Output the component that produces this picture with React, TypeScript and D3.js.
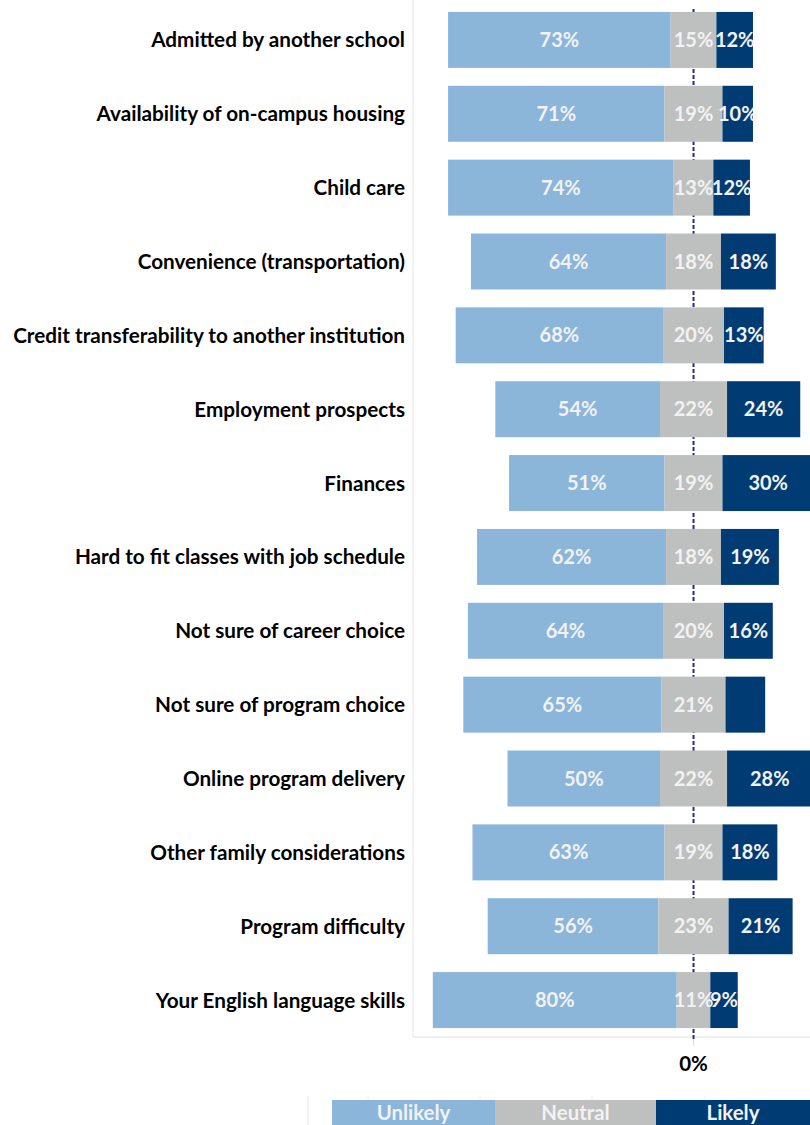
import React from "react";
import * as d3 from "d3";

const categories = [
  "Admitted by another school",
  "Availability of on-campus housing",
  "Child care",
  "Convenience (transportation)",
  "Credit transferability to another institution",
  "Employment prospects",
  "Finances",
  "Hard to fit classes with job schedule",
  "Not sure of career choice",
  "Not sure of program choice",
  "Online program delivery",
  "Other family considerations",
  "Program difficulty",
  "Your English language skills",
];
const unlikely = [73, 71, 74, 64, 68, 54, 51, 62, 64, 65, 50, 63, 56, 80];
const neutral = [15, 19, 13, 18, 20, 22, 19, 18, 20, 21, 22, 19, 23, 11];
const likely = [12, 10, 12, 18, 13, 24, 30, 19, 16, 13, 28, 18, 21, 9];
const hiddenLikelyLabels = ["Not sure of program choice"];
const seriesNames = ["Unlikely", "Neutral", "Likely"];
const xTicks = [0];

const COLORS = ["#8BB6DA", "#BEBFBF", "#003B73"];
const FONT = "Lato, 'Open Sans', sans-serif";

export default function App() {
  const W = 810;
  const H = 1125;
  const plotLeft = 413;
  const plotRight = 810;
  const plotTop = 3;
  const plotBottom = 1037;

  const x = d3.scaleLinear().domain([-92, 38.2]).range([plotLeft, plotRight]);
  const y = d3
    .scaleBand<string>()
    .domain(categories)
    .range([plotTop, plotBottom])
    .paddingInner(0.242)
    .paddingOuter(0.121);

  const rows = categories.map((c, i) => {
    const n = neutral[i];
    const u = unlikely[i];
    const l = likely[i];
    const segs = [
      { s: 0, x0: -(n / 2 + u), x1: -n / 2, v: u, show: true },
      { s: 1, x0: -n / 2, x1: n / 2, v: n, show: true },
      { s: 2, x0: n / 2, x1: n / 2 + l, v: l, show: !hiddenLikelyLabels.includes(c) },
    ];
    return { c, segs };
  });

  const legendEdges = [332, 495, 656, 810];
  const legendGrid = [368, 480, 592, 705];

  return (
    <svg
      width={W}
      height={H}
      style={{ position: "absolute", left: 0, top: 0, background: "#fff" }}
      fontFamily={FONT}
    >
      <line x1={plotLeft} x2={plotLeft} y1={0} y2={plotBottom} stroke="#E6E6E6" strokeWidth={1} />
      <line x1={plotLeft} x2={plotRight} y1={plotBottom} y2={plotBottom} stroke="#E0E0E0" strokeWidth={1} />
      {xTicks.map((t) => (
        <g key={t}>
          <line x1={x(t)} x2={x(t)} y1={plotBottom} y2={plotBottom + 9} stroke="#E0E0E0" />
          <text x={x(t)} y={1071} textAnchor="middle" fontSize={20.5} fontWeight={700} fill="#000">
            {`${t}%`}
          </text>
        </g>
      ))}
      <line
        x1={x(0)}
        x2={x(0)}
        y1={9}
        y2={plotBottom + 2}
        stroke="#2A2A8C"
        strokeWidth={2}
        strokeDasharray="4,2"
      />
      {rows.map((r) => {
        const yy = y(r.c)!;
        const bh = y.bandwidth();
        const cy = yy + bh / 2;
        return (
          <g key={r.c}>
            <text x={405} y={cy + 7.5} textAnchor="end" fontSize={20.7} fontWeight={700} fill="#000">
              {r.c}
            </text>
            {r.segs.map((s) => (
              <rect
                key={s.s}
                x={x(s.x0)}
                y={yy}
                width={x(s.x1) - x(s.x0)}
                height={bh}
                fill={COLORS[s.s]}
              />
            ))}
            {r.segs.map((s) =>
              s.show ? (
                <text
                  key={"t" + s.s}
                  x={(x(s.x0) + x(s.x1)) / 2}
                  y={cy + 7}
                  textAnchor="middle"
                  fontSize={20}
                  fontWeight={700}
                  fill="#F2F2F2"
                >
                  {`${s.v}%`}
                </text>
              ) : null
            )}
          </g>
        );
      })}
      <line x1={308} x2={308} y1={1096} y2={H} stroke="#E6E6E6" />
      {legendGrid.map((gx) => (
        <line key={gx} x1={gx} x2={gx} y1={1096} y2={H} stroke="#F0F0F0" />
      ))}
      {seriesNames.map((s, i) => {
        const x0 = legendEdges[i];
        const x1 = legendEdges[i + 1];
        return (
          <g key={s}>
            <rect x={x0} y={1100} width={x1 - x0} height={H - 1100} fill={COLORS[i]} />
            <text
              x={(x0 + x1) / 2}
              y={1120}
              textAnchor="middle"
              fontSize={20.4}
              fontWeight={700}
              fill="#F2F2F2"
            >
              {s}
            </text>
          </g>
        );
      })}
    </svg>
  );
}
